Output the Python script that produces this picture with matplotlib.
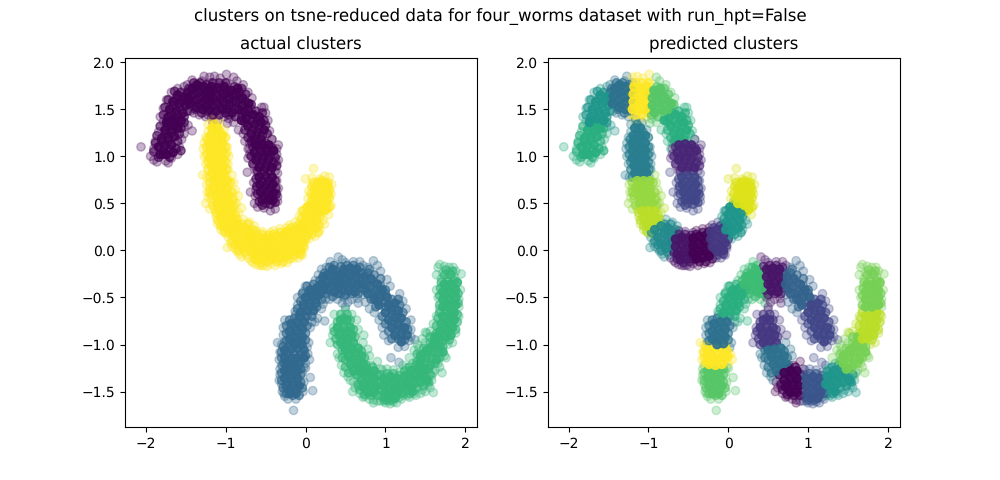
#! /usr/bin/python

# clusters on tsne-reduced data, points.
# "core" and "fill" points sit inside the solid body, "edge" points are the loose fringe.

from matplotlib import pyplot as plt
import numpy as np

# worm a: top arch
a1_core = [(-1.82,1.02),(-1.74,1.02),(-1.66,1.04),(-1.84,1.10),(-1.76,1.11),(-1.68,1.12),(-1.80,1.19),(-1.72,1.20),(-1.64,1.21),(-1.76,1.28),(-1.68,1.29),(-1.60,1.30),(-1.72,1.36),(-1.64,1.37)]
a1_fill = [(-1.90,1.05),(-1.78,1.06),(-1.70,1.07),(-1.62,1.08),(-1.56,1.06),(-1.88,1.14),(-1.80,1.15),(-1.72,1.16),(-1.60,1.16),(-1.86,1.22),(-1.76,1.24),(-1.68,1.25),(-1.58,1.24),(-1.82,1.32),(-1.72,1.32),(-1.64,1.33),(-1.56,1.30),(-1.78,1.02),(-1.84,0.99),(-1.70,0.99)]
a1_edge = [(-2.06,1.10),(-1.94,1.00),(-1.90,0.96),(-1.86,0.94),(-1.75,0.95),(-1.72,0.93),(-1.68,0.98),(-1.58,1.10),(-1.52,1.24),(-1.90,1.08),(-1.88,1.16),(-1.84,1.26),(-1.78,1.37),(-1.55,1.18),(-1.60,1.02)]
a2_core = [(-1.72,1.42),(-1.64,1.40),(-1.56,1.38),(-1.70,1.50),(-1.62,1.48),(-1.54,1.46),(-1.66,1.58),(-1.58,1.56),(-1.50,1.54),(-1.60,1.65),(-1.52,1.63),(-1.46,1.60),(-1.74,1.36)]
a2_fill = [(-1.78,1.44),(-1.68,1.45),(-1.60,1.44),(-1.52,1.42),(-1.76,1.52),(-1.66,1.53),(-1.58,1.52),(-1.48,1.48),(-1.72,1.60),(-1.62,1.61),(-1.54,1.59),(-1.64,1.69),(-1.56,1.68),(-1.48,1.66),(-1.68,1.38),(-1.60,1.36),(-1.52,1.36)]
a2_edge = [(-1.82,1.42),(-1.78,1.51),(-1.74,1.60),(-1.68,1.68),(-1.60,1.72),(-1.52,1.74),(-1.47,1.33),(-1.42,1.27),(-1.52,1.31),(-1.60,1.30),(-1.64,1.34)]
a3_core = [(-1.45,1.56),(-1.37,1.52),(-1.29,1.50),(-1.44,1.64),(-1.36,1.60),(-1.28,1.58),(-1.42,1.72),(-1.34,1.68),(-1.26,1.66),(-1.36,1.76),(-1.28,1.74),(-1.22,1.60),(-1.21,1.70)]
a3_fill = [(-1.49,1.60),(-1.41,1.58),(-1.33,1.55),(-1.25,1.53),(-1.48,1.68),(-1.40,1.66),(-1.32,1.63),(-1.24,1.61),(-1.46,1.72),(-1.38,1.73),(-1.30,1.70),(-1.40,1.78),(-1.32,1.78),(-1.24,1.76),(-1.38,1.50),(-1.30,1.46),(-1.22,1.48)]
a3_edge = [(-1.48,1.76),(-1.42,1.81),(-1.30,1.80),(-1.27,1.85),(-1.33,1.44),(-1.25,1.42),(-1.40,1.46),(-1.44,1.48),(-1.20,1.78)]
a4_core = [(-1.20,1.50),(-1.12,1.48),(-1.04,1.50),(-1.19,1.58),(-1.11,1.57),(-1.03,1.58),(-1.19,1.66),(-1.11,1.65),(-1.03,1.66),(-1.18,1.74),(-1.10,1.73),(-1.02,1.74)]
a4_fill = [(-1.24,1.54),(-1.16,1.53),(-1.08,1.52),(-1.00,1.54),(-1.23,1.62),(-1.15,1.61),(-1.07,1.61),(-0.99,1.62),(-1.23,1.70),(-1.15,1.70),(-1.07,1.70),(-0.99,1.70),(-1.16,1.78),(-1.08,1.78),(-1.00,1.78),(-1.16,1.44),(-1.08,1.44),(-1.00,1.46)]
a4_edge = [(-1.20,1.84),(-1.14,1.85),(-1.07,1.83),(-0.99,1.87),(-1.18,1.42),(-1.10,1.38),(-1.02,1.42),(-1.22,1.44),(-0.98,1.78),(-1.16,1.36)]
a5_core = [(-0.95,1.62),(-0.87,1.66),(-0.79,1.62),(-0.95,1.54),(-0.87,1.58),(-0.79,1.54),(-0.71,1.56),(-0.92,1.46),(-0.84,1.50),(-0.76,1.47),(-0.93,1.70),(-0.85,1.72)]
a5_fill = [(-0.91,1.58),(-0.83,1.60),(-0.75,1.58),(-0.91,1.66),(-0.83,1.68),(-0.75,1.66),(-0.98,1.50),(-0.88,1.50),(-0.80,1.48),(-0.72,1.50),(-0.68,1.55),(-0.89,1.74),(-0.80,1.72),(-0.96,1.44),(-0.88,1.42),(-0.80,1.42),(-0.98,1.68)]
a5_edge = [(-0.86,1.80),(-0.78,1.76),(-0.72,1.68),(-0.67,1.62),(-0.90,1.84),(-0.96,1.40),(-0.90,1.36),(-0.98,1.35),(-0.68,1.50),(-0.64,1.44)]
a6_core = [(-0.74,1.40),(-0.66,1.44),(-0.58,1.42),(-0.72,1.32),(-0.64,1.34),(-0.56,1.36),(-0.68,1.24),(-0.60,1.26),(-0.52,1.28),(-0.64,1.17),(-0.56,1.18),(-0.80,1.38)]
a6_fill = [(-0.70,1.46),(-0.62,1.48),(-0.54,1.46),(-0.76,1.36),(-0.68,1.38),(-0.60,1.38),(-0.52,1.38),(-0.76,1.28),(-0.66,1.29),(-0.58,1.30),(-0.50,1.33),(-0.72,1.20),(-0.62,1.21),(-0.54,1.22),(-0.48,1.24),(-0.68,1.16),(-0.60,1.12),(-0.50,1.14)]
a6_edge = [(-0.55,1.52),(-0.50,1.46),(-0.47,1.38),(-0.45,1.27),(-0.42,1.18),(-0.84,1.28),(-0.78,1.24),(-0.76,1.16),(-0.72,1.08),(-0.70,1.14),(-0.52,1.52)]
a7_core = [(-0.62,1.12),(-0.54,1.13),(-0.46,1.12),(-0.64,1.04),(-0.56,1.05),(-0.48,1.05),(-0.40,1.06),(-0.62,0.96),(-0.54,0.97),(-0.46,0.97),(-0.58,0.88),(-0.50,0.88),(-0.42,0.88)]
a7_fill = [(-0.68,1.00),(-0.66,1.10),(-0.58,1.09),(-0.50,1.09),(-0.42,1.09),(-0.60,1.00),(-0.52,1.01),(-0.44,1.01),(-0.38,0.99),(-0.66,0.92),(-0.56,0.92),(-0.48,0.92),(-0.40,0.93),(-0.36,0.90),(-0.60,0.84),(-0.52,0.84),(-0.44,0.84)]
a7_edge = [(-0.72,0.98),(-0.70,1.08),(-0.66,1.16),(-0.36,1.02),(-0.34,1.12),(-0.37,0.94),(-0.62,0.84),(-0.42,1.18),(-0.38,0.84),(-0.65,0.90),(-0.70,1.02),(-0.36,1.08),(-0.34,0.96)]
a8_core = [(-0.58,0.78),(-0.50,0.79),(-0.42,0.78),(-0.57,0.70),(-0.49,0.70),(-0.41,0.70),(-0.56,0.62),(-0.48,0.62),(-0.40,0.61),(-0.54,0.54),(-0.46,0.54),(-0.41,0.53)]
a8_fill = [(-0.62,0.76),(-0.54,0.74),(-0.46,0.74),(-0.38,0.74),(-0.61,0.68),(-0.52,0.66),(-0.44,0.66),(-0.37,0.66),(-0.60,0.60),(-0.52,0.58),(-0.44,0.58),(-0.37,0.60),(-0.58,0.52),(-0.50,0.50),(-0.44,0.49),(-0.38,0.51),(-0.54,0.48)]
a8_edge = [(-0.73,0.83),(-0.65,0.72),(-0.62,0.64),(-0.69,0.62),(-0.64,0.50),(-0.60,0.46),(-0.52,0.45),(-0.44,0.42),(-0.38,0.44),(-0.35,0.52),(-0.35,0.57),(-0.36,0.74),(-0.35,0.82),(-0.63,0.58),(-0.61,0.68),(-0.34,0.66),(-0.36,0.60)]

# worm b: lower arch
b1_core = [(-0.26,-1.28),(-0.18,-1.28),(-0.10,-1.28),(-0.26,-1.36),(-0.18,-1.36),(-0.10,-1.36),(-0.24,-1.44),(-0.16,-1.44),(-0.08,-1.44),(-0.20,-1.52),(-0.12,-1.52)]
b1_fill = [(-0.30,-1.30),(-0.22,-1.32),(-0.14,-1.32),(-0.06,-1.32),(-0.30,-1.38),(-0.22,-1.40),(-0.14,-1.40),(-0.06,-1.40),(-0.28,-1.46),(-0.20,-1.48),(-0.12,-1.48),(-0.04,-1.46),(-0.24,-1.52),(-0.16,-1.54),(-0.08,-1.54),(-0.22,-1.26),(-0.14,-1.24),(-0.06,-1.26)]
b1_edge = [(-0.30,-1.22),(-0.32,-1.32),(-0.30,-1.42),(-0.29,-1.50),(-0.26,-1.55),(-0.22,-1.58),(-0.12,-1.58),(-0.15,-1.70),(0.00,-1.25),(0.09,-1.49),(0.06,-1.35),(-0.03,-1.50),(-0.04,-1.30),(-0.32,-1.26),(-0.33,-1.38),(-0.02,-1.40),(-0.02,-1.24),(-0.27,-1.52)]
b2_core = [(-0.26,-1.06),(-0.18,-1.05),(-0.10,-1.04),(-0.02,-1.06),(-0.26,-1.14),(-0.18,-1.14),(-0.10,-1.14),(-0.02,-1.14),(-0.24,-1.21),(-0.16,-1.22),(-0.08,-1.21)]
b2_fill = [(-0.30,-1.08),(-0.22,-1.10),(-0.14,-1.10),(-0.06,-1.10),(0.00,-1.12),(-0.30,-1.14),(-0.22,-1.18),(-0.14,-1.18),(-0.06,-1.18),(-0.28,-1.02),(-0.20,-1.01),(-0.12,-1.00),(-0.04,-1.00),(-0.27,-1.20)]
b2_edge = [(-0.35,-0.98),(-0.32,-1.08),(-0.33,-1.16),(-0.30,-1.00),(0.03,-1.10),(0.05,-1.16),(-0.29,-1.22),(0.00,-1.20)]
b3_core = [(-0.18,-0.78),(-0.10,-0.76),(-0.02,-0.76),(-0.20,-0.86),(-0.12,-0.85),(-0.04,-0.84),(-0.20,-0.94),(-0.12,-0.93),(-0.04,-0.92),(-0.14,-1.00),(-0.06,-0.99)]
b3_fill = [(-0.24,-0.80),(-0.14,-0.81),(-0.06,-0.80),(0.02,-0.80),(-0.24,-0.88),(-0.16,-0.90),(-0.08,-0.88),(0.00,-0.88),(-0.24,-0.96),(-0.16,-0.97),(-0.08,-0.96),(0.00,-0.95),(-0.14,-0.72),(-0.06,-0.71),(0.02,-0.70),(-0.20,-0.74)]
b3_edge = [(-0.28,-0.82),(-0.26,-0.74),(-0.28,-0.90),(-0.26,-0.97),(0.04,-0.98),(0.02,-1.03),(0.06,-0.82),(0.08,-0.76),(-0.12,-0.68)]
b4_core = [(-0.06,-0.66),(0.02,-0.64),(0.10,-0.64),(-0.03,-0.58),(0.05,-0.56),(0.13,-0.56),(0.00,-0.50),(0.08,-0.48),(0.16,-0.48),(0.06,-0.42),(0.14,-0.40),(0.22,-0.42)]
b4_fill = [(-0.10,-0.62),(-0.02,-0.61),(0.06,-0.60),(0.14,-0.60),(-0.06,-0.54),(0.04,-0.52),(0.12,-0.52),(0.20,-0.52),(-0.04,-0.46),(0.04,-0.45),(0.11,-0.44),(0.19,-0.46),(0.02,-0.38),(0.10,-0.36),(0.18,-0.37),(-0.08,-0.70),(0.00,-0.70),(0.08,-0.70)]
b4_edge = [(-0.13,-0.65),(-0.10,-0.58),(-0.10,-0.50),(-0.03,-0.44),(0.00,-0.38),(0.24,-0.75),(0.15,-0.72),(0.20,-0.62),(0.22,-0.57),(0.25,-0.52),(0.12,-0.76)]
b5_core = [(0.20,-0.36),(0.28,-0.42),(0.36,-0.44),(0.22,-0.28),(0.30,-0.34),(0.38,-0.36),(0.28,-0.26),(0.36,-0.28),(0.42,-0.40),(0.34,-0.20),(0.42,-0.26),(0.42,-0.33)]
b5_fill = [(0.16,-0.40),(0.24,-0.38),(0.32,-0.39),(0.40,-0.46),(0.18,-0.32),(0.26,-0.32),(0.34,-0.33),(0.46,-0.36),(0.24,-0.24),(0.32,-0.26),(0.40,-0.30),(0.30,-0.18),(0.38,-0.22),(0.46,-0.24),(0.36,-0.16),(0.26,-0.46),(0.34,-0.49),(0.44,-0.46)]
b5_edge = [(0.12,-0.32),(0.16,-0.26),(0.20,-0.20),(0.26,-0.18),(0.31,-0.12),(0.30,-0.52),(0.40,-0.52),(0.46,-0.56),(0.48,-0.48),(0.14,-0.44)]
b6_core = [(0.48,-0.20),(0.56,-0.19),(0.64,-0.20),(0.48,-0.28),(0.56,-0.27),(0.64,-0.28),(0.50,-0.36),(0.58,-0.35),(0.66,-0.36),(0.54,-0.43),(0.62,-0.44)]
b6_fill = [(0.44,-0.17),(0.52,-0.16),(0.60,-0.16),(0.68,-0.18),(0.52,-0.24),(0.60,-0.23),(0.68,-0.24),(0.52,-0.32),(0.60,-0.31),(0.69,-0.32),(0.46,-0.42),(0.54,-0.39),(0.62,-0.39),(0.70,-0.40),(0.58,-0.46),(0.66,-0.46),(0.50,-0.47)]
b6_edge = [(0.41,-0.07),(0.46,-0.10),(0.50,-0.13),(0.60,-0.12),(0.68,-0.12),(0.72,-0.16),(0.48,-0.50),(0.53,-0.55),(0.58,-0.52),(0.65,-0.51),(0.66,-0.56),(0.50,-0.60)]
b7_core = [(0.74,-0.28),(0.82,-0.30),(0.90,-0.36),(0.72,-0.36),(0.80,-0.38),(0.88,-0.44),(0.96,-0.42),(0.78,-0.46),(0.86,-0.52),(0.94,-0.50),(1.02,-0.50),(0.92,-0.58)]
b7_fill = [(0.70,-0.24),(0.78,-0.24),(0.86,-0.26),(0.94,-0.30),(0.76,-0.32),(0.86,-0.34),(0.94,-0.38),(1.00,-0.42),(0.76,-0.40),(0.84,-0.46),(0.92,-0.46),(1.00,-0.46),(0.74,-0.42),(0.82,-0.52),(0.90,-0.54),(0.98,-0.55),(0.88,-0.60),(0.80,-0.20)]
b7_edge = [(0.85,-0.11),(0.78,-0.18),(0.94,-0.22),(1.02,-0.31),(1.06,-0.38),(0.72,-0.47),(0.75,-0.55),(0.80,-0.62),(0.86,-0.66),(0.90,-0.16)]
b8_core = [(1.04,-0.58),(1.12,-0.56),(1.00,-0.66),(1.08,-0.64),(1.16,-0.64),(1.04,-0.74),(1.12,-0.72),(1.20,-0.72),(1.08,-0.82),(1.16,-0.80),(1.24,-0.82),(1.12,-0.90),(1.20,-0.89),(1.27,-0.90),(1.20,-0.97)]
b8_fill = [(1.08,-0.52),(1.16,-0.52),(1.00,-0.60),(1.08,-0.60),(1.18,-0.58),(0.96,-0.70),(1.08,-0.68),(1.16,-0.68),(1.22,-0.66),(1.00,-0.78),(1.08,-0.76),(1.16,-0.76),(1.26,-0.76),(1.04,-0.86),(1.12,-0.85),(1.20,-0.84),(1.28,-0.84),(1.08,-0.94),(1.16,-0.94),(1.24,-0.95)]
b8_edge = [(1.18,-0.46),(1.22,-0.54),(1.26,-0.62),(1.32,-0.74),(1.32,-0.84),(1.30,-0.96),(1.24,-1.02),(1.16,-1.03),(1.04,-0.96),(0.96,-0.82),(0.98,-0.90),(0.92,-0.74),(1.32,-0.92),(1.07,-1.14),(1.17,-1.19),(1.37,-0.95)]

# worm c: lower u shape
c1_core = [(0.44,-0.74),(0.52,-0.74),(0.40,-0.82),(0.48,-0.82),(0.56,-0.82),(0.42,-0.90),(0.50,-0.90),(0.58,-0.90),(0.44,-0.98),(0.52,-0.98),(0.60,-0.98)]
c1_fill = [(0.40,-0.76),(0.48,-0.72),(0.56,-0.74),(0.36,-0.86),(0.44,-0.86),(0.52,-0.86),(0.60,-0.84),(0.38,-0.94),(0.46,-0.94),(0.54,-0.94),(0.62,-0.92),(0.40,-1.00),(0.48,-1.02),(0.56,-1.02),(0.44,-0.68),(0.52,-0.68)]
c1_edge = [(0.36,-0.68),(0.50,-0.63),(0.58,-0.68),(0.35,-0.82),(0.31,-0.98),(0.34,-0.90),(0.66,-0.84),(0.73,-0.90),(0.64,-0.74)]
c2_core = [(0.50,-1.06),(0.58,-1.05),(0.66,-1.04),(0.54,-1.13),(0.62,-1.12),(0.70,-1.12),(0.56,-1.21),(0.64,-1.20),(0.72,-1.20),(0.60,-1.28),(0.68,-1.27)]
c2_fill = [(0.46,-1.06),(0.54,-1.09),(0.62,-1.08),(0.70,-1.07),(0.46,-1.14),(0.50,-1.16),(0.58,-1.16),(0.66,-1.16),(0.74,-1.14),(0.50,-1.24),(0.60,-1.24),(0.68,-1.23),(0.76,-1.22),(0.54,-1.30),(0.64,-1.32),(0.72,-1.28)]
c2_edge = [(0.40,-1.10),(0.42,-1.14),(0.45,-1.22),(0.48,-1.30),(0.53,-1.34),(0.78,-1.05),(0.80,-1.12),(0.72,-0.98),(0.56,-1.38)]
c3_core = [(0.70,-1.30),(0.78,-1.28),(0.86,-1.28),(0.70,-1.38),(0.78,-1.36),(0.86,-1.36),(0.72,-1.45),(0.80,-1.44),(0.88,-1.44),(0.78,-1.51),(0.86,-1.51)]
c3_fill = [(0.64,-1.32),(0.74,-1.32),(0.82,-1.32),(0.90,-1.32),(0.66,-1.42),(0.74,-1.41),(0.82,-1.40),(0.90,-1.40),(0.68,-1.48),(0.76,-1.48),(0.84,-1.48),(0.92,-1.48),(0.74,-1.53),(0.82,-1.54),(0.90,-1.54),(0.76,-1.25),(0.84,-1.24)]
c3_edge = [(0.60,-1.40),(0.62,-1.46),(0.59,-1.50),(0.68,-1.52),(0.74,-1.55),(0.85,-1.59),(0.85,-1.62),(0.82,-1.22),(0.90,-1.18),(0.94,-1.26),(0.96,-1.56),(0.66,-1.44),(0.72,-1.56),(0.80,-1.58),(0.90,-1.60)]
c4_core = [(0.98,-1.36),(1.06,-1.34),(1.14,-1.36),(0.98,-1.44),(1.06,-1.42),(1.14,-1.44),(1.00,-1.52),(1.08,-1.50),(1.16,-1.50),(1.04,-1.57),(1.12,-1.57)]
c4_fill = [(0.94,-1.32),(1.02,-1.31),(1.10,-1.31),(1.18,-1.33),(0.94,-1.40),(1.02,-1.39),(1.10,-1.39),(1.18,-1.40),(0.96,-1.48),(1.04,-1.47),(1.12,-1.47),(1.20,-1.46),(0.98,-1.56),(1.06,-1.55),(1.14,-1.54),(1.20,-1.52),(1.08,-1.59),(1.00,-1.59)]
c4_edge = [(0.96,-1.27),(1.02,-1.26),(1.10,-1.27),(1.18,-1.29),(0.94,-1.60),(1.00,-1.62),(1.06,-1.63),(1.14,-1.62),(1.20,-1.58),(1.22,-1.22),(0.98,-1.60),(1.04,-1.60),(1.10,-1.61),(1.18,-1.56),(1.24,-1.52)]
c5_core = [(1.24,-1.34),(1.32,-1.28),(1.40,-1.26),(1.22,-1.42),(1.30,-1.36),(1.38,-1.34),(1.46,-1.32),(1.28,-1.44),(1.36,-1.42),(1.44,-1.40),(1.52,-1.38),(1.34,-1.50)]
c5_fill = [(1.24,-1.28),(1.30,-1.24),(1.38,-1.22),(1.28,-1.32),(1.36,-1.30),(1.44,-1.28),(1.50,-1.26),(1.26,-1.40),(1.34,-1.38),(1.42,-1.36),(1.50,-1.34),(1.56,-1.32),(1.26,-1.48),(1.32,-1.46),(1.40,-1.46),(1.48,-1.44),(1.54,-1.40),(1.30,-1.52)]
c5_edge = [(1.22,-1.54),(1.30,-1.56),(1.26,-1.25),(1.34,-1.20),(1.40,-1.18),(1.50,-1.50),(1.56,-1.46),(1.60,-1.51),(1.44,-1.52),(1.38,-1.54),(1.54,-1.43),(1.28,-1.54),(1.36,-1.52),(1.46,-1.48),(1.58,-1.38),(1.60,-1.30)]
c6_core = [(1.44,-1.12),(1.52,-1.06),(1.60,-1.00),(1.44,-1.20),(1.52,-1.14),(1.60,-1.08),(1.68,-1.02),(1.48,-1.26),(1.56,-1.22),(1.64,-1.16),(1.72,-1.08),(1.62,-0.92)]
c6_fill = [(1.40,-1.10),(1.48,-1.04),(1.56,-0.98),(1.40,-1.18),(1.48,-1.10),(1.56,-1.04),(1.64,-1.00),(1.44,-1.16),(1.50,-1.20),(1.58,-1.14),(1.66,-1.08),(1.72,-1.02),(1.44,-1.26),(1.54,-1.26),(1.62,-1.20),(1.68,-1.14),(1.56,-0.92),(1.66,-0.92)]
c6_edge = [(1.36,-1.06),(1.40,-1.00),(1.46,-0.94),(1.52,-0.88),(1.58,-1.33),(1.62,-1.27),(1.68,-1.24),(1.76,-1.14),(1.71,-1.30),(1.30,-1.14),(1.66,-1.20),(1.74,-1.12),(1.42,-1.04),(1.50,-0.98)]
c7_core = [(1.68,-0.94),(1.76,-0.92),(1.82,-0.90),(1.68,-0.86),(1.76,-0.84),(1.84,-0.82),(1.70,-0.78),(1.78,-0.76),(1.86,-0.74),(1.72,-0.70),(1.80,-0.68),(1.86,-0.66)]
c7_fill = [(1.62,-0.96),(1.72,-0.96),(1.80,-0.95),(1.64,-0.88),(1.72,-0.88),(1.80,-0.86),(1.88,-0.84),(1.64,-0.80),(1.74,-0.80),(1.82,-0.78),(1.90,-0.76),(1.66,-0.72),(1.76,-0.72),(1.84,-0.70),(1.90,-0.68),(1.68,-0.66),(1.76,-0.64),(1.84,-0.63)]
c7_edge = [(1.50,-0.87),(1.56,-0.86),(1.60,-0.78),(1.64,-0.70),(1.68,-0.62),(1.88,-0.88),(1.78,-1.00),(1.84,-0.98),(1.92,-0.70)]
c8_core = [(1.72,-0.60),(1.80,-0.60),(1.88,-0.58),(1.72,-0.52),(1.80,-0.52),(1.88,-0.50),(1.72,-0.44),(1.80,-0.44),(1.88,-0.42),(1.74,-0.36),(1.82,-0.36),(1.90,-0.34)]
c8_fill = [(1.68,-0.58),(1.76,-0.56),(1.84,-0.56),(1.91,-0.56),(1.68,-0.48),(1.76,-0.48),(1.84,-0.46),(1.91,-0.46),(1.69,-0.40),(1.78,-0.40),(1.85,-0.39),(1.70,-0.34),(1.78,-0.33),(1.86,-0.32),(1.74,-0.26),(1.82,-0.26),(1.76,-0.21),(1.84,-0.22)]
c8_edge = [(1.95,-0.25),(1.66,-0.18),(1.64,-0.26),(1.68,-0.15),(1.74,-0.17),(1.80,-0.18),(1.85,-0.18),(1.88,-0.22),(1.72,-0.24),(1.80,-0.24),(1.86,-0.28),(1.78,-0.30),(1.70,-0.30),(1.94,-0.42),(1.92,-0.52),(1.64,-0.42),(1.66,-0.50),(1.92,-0.60)]

# worm d: upper u shape
d1_core = [(-1.17,1.30),(-1.10,1.30),(-1.19,1.22),(-1.11,1.22),(-1.04,1.22),(-1.20,1.14),(-1.12,1.14),(-1.04,1.14),(-1.20,1.06),(-1.12,1.06),(-1.04,1.06),(-1.20,0.98),(-1.12,0.98),(-1.04,0.98),(-1.18,0.90),(-1.10,0.90),(-1.03,0.90),(-1.17,0.82),(-1.09,0.82),(-1.02,0.82)]
d1_fill = [(-1.14,1.34),(-1.14,1.26),(-1.07,1.26),(-1.00,1.20),(-1.23,1.18),(-1.16,1.18),(-1.08,1.18),(-1.00,1.10),(-1.24,1.10),(-1.16,1.10),(-1.08,1.10),(-1.24,1.02),(-1.16,1.02),(-1.08,1.02),(-1.00,1.02),(-1.22,0.94),(-1.14,0.94),(-1.07,0.94),(-1.00,0.94),(-1.22,0.86),(-1.14,0.86),(-1.06,0.86),(-0.99,0.86),(-1.20,0.78),(-1.12,0.78),(-1.05,0.78)]
d1_edge = [(-1.22,1.34),(-1.16,1.39),(-1.08,1.36),(-1.28,1.08),(-1.27,1.00),(-1.25,0.92),(-0.98,1.10),(-0.96,1.00),(-0.97,0.92),(-1.29,0.80),(-1.24,0.78),(-0.99,0.78),(-1.22,1.26),(-1.02,1.28),(-1.27,1.14),(-1.25,1.20),(-0.98,1.04),(-0.97,0.86)]
d2_core = [(-1.14,0.74),(-1.06,0.74),(-0.98,0.74),(-1.14,0.66),(-1.06,0.66),(-0.98,0.66),(-1.12,0.58),(-1.04,0.58),(-0.96,0.58),(-1.11,0.50),(-1.03,0.50),(-0.95,0.50)]
d2_fill = [(-1.20,0.72),(-1.10,0.70),(-1.02,0.70),(-0.94,0.72),(-1.20,0.62),(-1.10,0.62),(-1.00,0.62),(-0.92,0.62),(-1.18,0.58),(-1.08,0.54),(-1.00,0.54),(-0.91,0.54),(-1.16,0.48),(-1.07,0.46),(-0.99,0.46),(-0.90,0.47),(-1.16,0.66)]
d2_edge = [(-1.24,0.70),(-1.23,0.62),(-1.25,0.50),(-1.20,0.44),(-1.18,0.54),(-0.90,0.72),(-0.88,0.64),(-0.84,0.58),(-0.92,0.80),(-0.86,0.50),(-1.22,0.56),(-1.20,0.66),(-0.90,0.56),(-0.88,0.50)]
d3_core = [(-1.08,0.42),(-1.00,0.42),(-0.92,0.42),(-1.06,0.34),(-0.98,0.34),(-0.90,0.34),(-1.02,0.26),(-0.94,0.26),(-0.86,0.28)]
d3_fill = [(-1.12,0.40),(-1.04,0.38),(-0.96,0.38),(-0.88,0.38),(-1.10,0.32),(-1.02,0.30),(-0.94,0.30),(-0.86,0.33),(-1.06,0.26),(-0.98,0.23),(-0.90,0.24),(-1.02,0.20),(-0.94,0.18)]
d3_edge = [(-1.14,0.44),(-1.12,0.36),(-1.10,0.28),(-1.06,0.22),(-0.84,0.40),(-0.80,0.45),(-1.00,0.18)]
d4_core = [(-0.92,0.22),(-0.84,0.26),(-0.76,0.24),(-0.88,0.14),(-0.80,0.18),(-0.72,0.16),(-0.84,0.07),(-0.76,0.10),(-0.68,0.12),(-0.78,0.02),(-0.70,0.05)]
d4_fill = [(-0.96,0.19),(-0.88,0.20),(-0.80,0.22),(-0.72,0.21),(-0.92,0.10),(-0.84,0.12),(-0.76,0.15),(-0.68,0.18),(-0.88,0.06),(-0.80,0.05),(-0.72,0.08),(-0.84,0.00),(-0.76,-0.02),(-0.68,0.00),(-0.80,0.28),(-0.72,0.28),(-0.66,0.22)]
d4_edge = [(-0.97,0.14),(-0.94,0.08),(-0.98,0.03),(-0.88,0.02),(-0.83,-0.04),(-0.80,-0.07),(-0.70,0.30),(-0.64,0.26),(-0.62,0.20),(-0.78,0.33),(-0.92,0.04),(-0.86,-0.01),(-0.74,-0.05)]
d5_core = [(-0.66,0.12),(-0.58,0.14),(-0.50,0.13),(-0.66,0.04),(-0.58,0.06),(-0.50,0.05),(-0.64,-0.04),(-0.56,-0.02),(-0.48,-0.03),(-0.60,-0.10),(-0.52,-0.09)]
d5_fill = [(-0.70,0.08),(-0.62,0.10),(-0.54,0.10),(-0.46,0.09),(-0.62,0.17),(-0.54,0.17),(-0.46,0.16),(-0.62,0.00),(-0.54,0.02),(-0.46,0.01),(-0.68,-0.02),(-0.60,-0.05),(-0.52,-0.05),(-0.44,-0.06),(-0.64,-0.09),(-0.56,-0.13),(-0.48,-0.12)]
d5_edge = [(-0.70,0.20),(-0.62,0.21),(-0.54,0.20),(-0.72,-0.08),(-0.68,-0.11),(-0.62,-0.15),(-0.55,-0.16),(-0.48,-0.17),(-0.44,0.19),(-0.66,-0.13),(-0.58,-0.16),(-0.52,-0.16)]
d6_core = [(-0.44,0.13),(-0.36,0.15),(-0.28,0.16),(-0.44,0.05),(-0.36,0.07),(-0.28,0.08),(-0.44,-0.03),(-0.36,-0.01),(-0.28,0.00),(-0.40,-0.09),(-0.32,-0.08),(-0.24,-0.06)]
d6_fill = [(-0.40,0.17),(-0.32,0.19),(-0.24,0.20),(-0.40,0.09),(-0.32,0.11),(-0.24,0.12),(-0.40,0.01),(-0.32,0.03),(-0.24,0.04),(-0.40,-0.05),(-0.32,-0.04),(-0.24,-0.02),(-0.36,-0.12),(-0.28,-0.12),(-0.20,-0.09),(-0.44,-0.09)]
d6_edge = [(-0.40,0.21),(-0.32,0.23),(-0.24,0.24),(-0.44,-0.14),(-0.38,-0.16),(-0.30,-0.14),(-0.23,-0.13)]
d7_core = [(-0.22,0.20),(-0.14,0.22),(-0.06,0.24),(-0.22,0.12),(-0.14,0.14),(-0.06,0.16),(-0.20,0.04),(-0.12,0.06),(-0.04,0.08),(-0.14,-0.01),(-0.06,0.00)]
d7_fill = [(-0.18,0.24),(-0.10,0.26),(-0.02,0.27),(-0.18,0.16),(-0.10,0.18),(-0.02,0.20),(-0.16,0.08),(-0.08,0.10),(0.00,0.12),(-0.18,0.01),(-0.10,0.02),(-0.02,0.05),(-0.14,-0.05),(-0.06,-0.04)]
d7_edge = [(-0.20,0.27),(-0.13,0.30),(-0.15,-0.08),(-0.09,-0.08),(-0.04,-0.05),(-0.02,0.02),(-0.08,-0.03),(-0.22,-0.03),(-0.01,0.27)]
d8_core = [(-0.03,0.22),(0.05,0.20),(0.13,0.24),(-0.02,0.30),(0.06,0.30),(0.14,0.32),(0.00,0.38),(0.08,0.38),(0.16,0.40),(0.02,0.46),(0.10,0.46)]
d8_fill = [(-0.05,0.26),(0.02,0.25),(0.09,0.25),(0.17,0.27),(-0.05,0.34),(0.03,0.34),(0.10,0.34),(0.18,0.36),(-0.03,0.42),(0.04,0.42),(0.12,0.42),(0.20,0.42),(0.06,0.48),(0.14,0.48),(0.01,0.16),(0.08,0.17),(0.16,0.19)]
d8_edge = [(-0.08,0.36),(-0.05,0.42),(-0.08,0.28),(0.04,0.12),(0.00,0.13),(0.12,0.15),(0.18,0.22),(0.22,0.32),(0.24,0.28),(0.07,0.52)]
d9_core = [(0.12,0.50),(0.20,0.48),(0.26,0.44),(0.11,0.58),(0.19,0.56),(0.27,0.52),(0.12,0.66),(0.20,0.64),(0.28,0.60),(0.16,0.72),(0.24,0.72),(0.28,0.68)]
d9_fill = [(0.08,0.52),(0.16,0.52),(0.24,0.50),(0.30,0.46),(0.07,0.60),(0.15,0.60),(0.23,0.58),(0.30,0.56),(0.08,0.68),(0.16,0.67),(0.24,0.66),(0.30,0.64),(0.10,0.72),(0.20,0.74),(0.28,0.72),(0.24,0.42),(0.16,0.44)]
d9_edge = [(0.00,0.76),(0.08,0.77),(0.04,0.63),(0.03,0.55),(0.06,0.45),(0.10,0.87),(0.30,0.78),(0.24,0.79),(0.33,0.70),(0.32,0.60),(0.32,0.48),(0.29,0.38),(0.18,0.76)]

# core, fill, edge, actual cluster, predicted cluster
segments = [
    (a1_core, a1_fill, a1_edge, 0, 12), (a2_core, a2_fill, a2_edge, 0, 10), (a3_core, a3_fill, a3_edge, 0, 7), (a4_core, a4_fill, a4_edge, 0, 19),
    (a5_core, a5_fill, a5_edge, 0, 14), (a6_core, a6_fill, a6_edge, 0, 12), (a7_core, a7_fill, a7_edge, 0, 2), (a8_core, a8_fill, a8_edge, 0, 4),
    (b1_core, b1_fill, b1_edge, 1, 14), (b2_core, b2_fill, b2_edge, 1, 19), (b3_core, b3_fill, b3_edge, 1, 7), (b4_core, b4_fill, b4_edge, 1, 12),
    (b5_core, b5_fill, b5_edge, 1, 13), (b6_core, b6_fill, b6_edge, 1, 1), (b7_core, b7_fill, b7_edge, 1, 6), (b8_core, b8_fill, b8_edge, 1, 4),
    (c1_core, c1_fill, c1_edge, 2, 3), (c2_core, c2_fill, c2_edge, 2, 7), (c3_core, c3_fill, c3_edge, 2, 0), (c4_core, c4_fill, c4_edge, 2, 5),
    (c5_core, c5_fill, c5_edge, 2, 10), (c6_core, c6_fill, c6_edge, 2, 15), (c7_core, c7_fill, c7_edge, 2, 17), (c8_core, c8_fill, c8_edge, 2, 15),
    (d1_core, d1_fill, d1_edge, 3, 8), (d2_core, d2_fill, d2_edge, 3, 16), (d3_core, d3_fill, d3_edge, 3, 17), (d4_core, d4_fill, d4_edge, 3, 9),
    (d5_core, d5_fill, d5_edge, 3, 1), (d6_core, d6_fill, d6_edge, 3, 0), (d7_core, d7_fill, d7_edge, 3, 3), (d8_core, d8_fill, d8_edge, 3, 10),
    (d9_core, d9_fill, d9_edge, 3, 18),
]


def plot_clusters(ax, label_col, vmax, title):
    # fringe first, then the more opaque body on top of it
    for pts_col, alpha in ((2, 0.3), (1, 0.6), (0, 0.9)):
        pts = np.array([p for seg in segments for p in seg[pts_col]])
        labels = [seg[label_col] for seg in segments for _ in seg[pts_col]]
        ax.scatter(pts[:, 0], pts[:, 1], c=labels, alpha=alpha, cmap='viridis', vmin=0, vmax=vmax)
    ax.set_title(title)


plt.rcParams['text.hinting'] = 'no_hinting'
fig, (ax1, ax2) = plt.subplots(1, 2, figsize=(10, 4.8), dpi=100)
fig.suptitle('clusters on tsne-reduced data for four_worms dataset with run_hpt=False', y=0.983)
plot_clusters(ax1, 3, 3, 'actual clusters')
plot_clusters(ax2, 4, 19, 'predicted clusters')
plt.savefig('out.png')
